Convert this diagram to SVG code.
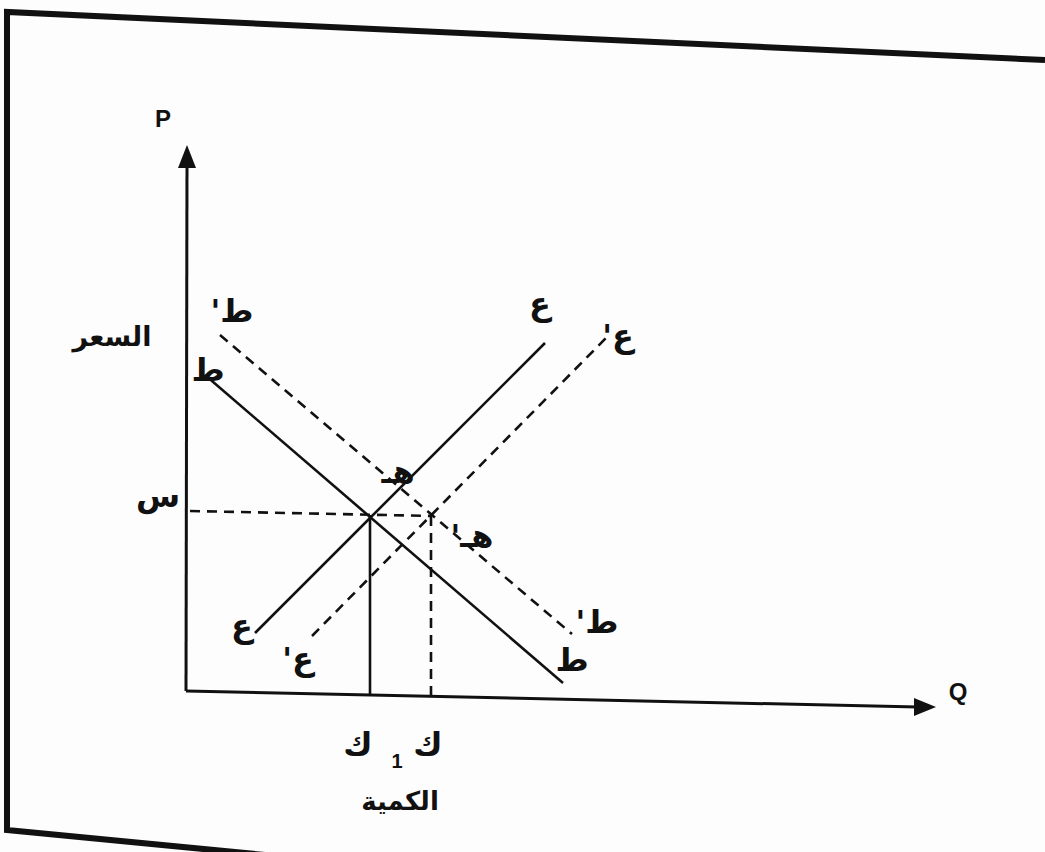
<svg xmlns="http://www.w3.org/2000/svg" width="1045" height="852" viewBox="0 0 1045 852">
<style>
.frame{fill:none;stroke:#111;stroke-width:6;stroke-linejoin:miter}
.axis{stroke:#111;stroke-width:3;fill:none}
.solid{stroke:#111;stroke-width:2.6;fill:none}
.dash{stroke:#111;stroke-width:2.6;fill:none;stroke-dasharray:10 7}
.ar{font-family:"DejaVu Sans",sans-serif;font-weight:bold;font-size:32px;fill:#111;text-anchor:middle}
.lat{font-family:"Liberation Sans",Arial,sans-serif;font-weight:bold;font-size:24px;fill:#111;text-anchor:middle}
</style>
<rect width="1045" height="852" fill="#fdfdfd"/>
<g id="frame">
<polyline class="frame" points="1045,60 7,12 7,830 420,870"/>
</g>
<g id="connectors">
<line class="axis" x1="187" y1="162" x2="186" y2="691"/>
<polygon points="187,145 178,168 196,168" fill="#111"/>
<line class="axis" x1="186" y1="691" x2="918" y2="707"/>
<polygon points="936,707 914,698 914,716" fill="#111"/>
<line class="solid" x1="205" y1="375" x2="563" y2="683"/>
<line class="dash" x1="220" y1="335" x2="572" y2="634"/>
<line class="solid" x1="255" y1="633" x2="545" y2="343"/>
<line class="dash" x1="312" y1="636" x2="606" y2="338"/>
<line class="dash" x1="190" y1="511" x2="432" y2="516"/>
<line class="solid" x1="370" y1="515" x2="370" y2="695"/>
<line class="dash" x1="431" y1="516" x2="431" y2="697"/>
</g>
<g id="labels">
<text class="lat" x="163" y="127">P</text>
<text class="lat" x="958" y="700">Q</text>
<text class="ar" x="112" y="346" style="font-size:27px">السعر</text>
<text class="ar" x="232" y="322" direction="rtl">ط'</text>
<text class="ar" x="208" y="381">ط</text>
<text class="ar" x="158" y="507">س</text>
<text class="ar" x="540" y="315">ع</text>
<text class="ar" x="618" y="347" direction="rtl">ع'</text>
<text class="ar" x="398" y="483">هـ</text>
<text class="ar" x="472" y="547" direction="rtl">هـ'</text>
<text class="ar" x="242" y="637">ع</text>
<text class="ar" x="298" y="670" direction="rtl">ع'</text>
<text class="ar" x="597" y="633" direction="rtl">ط'</text>
<text class="ar" x="572" y="671">ط</text>
<text class="ar" x="358" y="755">ك</text>
<text class="lat" x="397" y="768" style="font-size:20px">1</text>
<text class="ar" x="428" y="755">ك</text>
<text class="ar" x="400" y="810" style="font-size:26px">الكمية</text>
</g>
</svg>
